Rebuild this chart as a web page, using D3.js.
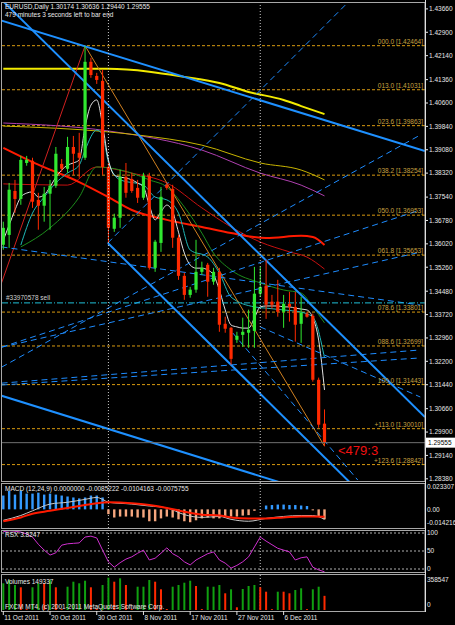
<!DOCTYPE html>
<html>
<head>
<meta charset="utf-8">
<script src="https://cdn.jsdelivr.net/npm/d3@7/dist/d3.min.js"></script>
<style>
    body { margin: 0; background: #000; }
    svg { display: block; }
    text { font-family: "Liberation Sans", Arial, sans-serif; }
</style>
</head>
<body>
<svg id="grafico" width="455" height="625"></svg>
<script>
const abertura = [1.3599,1.3631,1.3774,1.3748,1.3865,1.3872,1.3745,1.3726,1.3765,1.3791,1.3862,1.3846,1.3917,1.3898,1.3882,1.4194,1.4148,1.4132,1.3852,1.3651,1.3687,1.3820,1.3813,1.3784,1.3752,1.3823,1.3524,1.3605,1.3794,1.3781,1.3622,1.3498,1.3436,1.3453,1.3511,1.3534,1.3479,1.3511,1.3342,1.3329,1.3290,1.3306,1.3313,1.3319,1.3440,1.3466,1.3414,1.3414,1.3381,1.3407,1.3397,1.3342,1.3375,1.3368,1.3160,1.30174];
const maxima = [1.3674,1.3800,1.3810,1.3888,1.3888,1.3882,1.3768,1.3787,1.3810,1.3917,1.3878,1.3950,1.3953,1.3963,1.4246,1.4207,1.4158,1.4168,1.3865,1.3700,1.3843,1.3865,1.3833,1.3810,1.3833,1.3833,1.3615,1.3787,1.3800,1.3794,1.3631,1.3508,1.3462,1.3615,1.3544,1.3540,1.3524,1.3524,1.3365,1.3332,1.3316,1.3362,1.3388,1.3527,1.3527,1.3550,1.3436,1.3485,1.3436,1.3446,1.3446,1.3430,1.3381,1.3375,1.3167,1.30636];
const minima = [1.3583,1.3589,1.3703,1.3729,1.3856,1.3719,1.3648,1.3674,1.3648,1.3784,1.3836,1.3833,1.3826,1.3817,1.3875,1.4142,1.4122,1.3826,1.3605,1.3641,1.3654,1.3752,1.3768,1.3735,1.3745,1.3518,1.3511,1.3576,1.3778,1.3589,1.3485,1.3420,1.3427,1.3443,1.3501,1.3430,1.3469,1.3316,1.3313,1.3209,1.3280,1.3267,1.3264,1.3264,1.3430,1.3358,1.3391,1.3365,1.3329,1.3349,1.3284,1.3280,1.3362,1.3154,1.3004,1.29440];
const fechamento = [1.3654,1.3778,1.3748,1.3875,1.3875,1.3739,1.3726,1.3765,1.3791,1.3895,1.3846,1.3917,1.3895,1.3882,1.4194,1.4151,1.4135,1.3852,1.3654,1.3687,1.3820,1.3768,1.3774,1.3752,1.3823,1.3524,1.3609,1.3755,1.3784,1.3622,1.3498,1.3436,1.3453,1.3511,1.3524,1.3479,1.3511,1.3339,1.3326,1.3228,1.3303,1.3316,1.3323,1.3440,1.3462,1.3404,1.3404,1.3381,1.3407,1.3397,1.3339,1.3378,1.3365,1.3160,1.3014,1.29555];

const volumes = [281500,316400,263600,239400,9000,239400,281500,281500,316400,239400,9000,245700,298500,281500,309000,239400,12000,263600,340600,298500,334300,263600,10000,245700,245700,316400,298500,218300,10000,245700,263600,287900,309000,253100,10000,245700,245700,263600,176100,218300,28500,221400,253100,263600,239400,193000,9000,193000,193000,176100,210900,228800,9000,218300,245700,149337];
const volumeSobe = [1,1,1,0,0,1,1,0,1,0,0,1,1,1,1,0,0,1,1,0,1,0,0,1,1,1,0,0,0,1,1,1,1,0,0,1,1,1,0,1,0,1,1,1,0,0,0,1,0,0,1,1,0,1,1,0];

const macdHist = [0.0144,0.0193,0.0154,0.0193,0.0164,0.0164,0.0174,0.0154,0.0164,0.0154,0.0144,0.0134,0.0124,0.0114,0.0124,0.0144,0.0144,0.0124,-0.0050,-0.0085,-0.0075,-0.0075,-0.0075,-0.0085,-0.0085,-0.0124,-0.0124,-0.0094,-0.0075,-0.0085,-0.0104,-0.0124,-0.0134,-0.0114,-0.0094,-0.0085,-0.0094,-0.0094,-0.0085,-0.0075,-0.0075,-0.0065,-0.0060,-0.0015,0.0003,0.0040,0.0045,0.0050,0.0050,0.0045,0.0045,0.0040,0.0035,-0.0010,-0.0070,-0.0104];
const macdPrincipal = [[0,-0.0114],[3,-0.0064],[5,-0.0015],[8,0.0055],[11,0.0074],[14,0.0104],[16,0.0124],[17,0.0104],[18,0.0074],[22,0.0055],[25,0.0035],[28,0.0015],[31,-0.0055],[34,-0.0084],[37,-0.0074],[39,-0.0104],[42,-0.0124],[45,-0.0094],[48,-0.0074],[51,-0.0064],[53,-0.0064],[55,-0.0104]];
const macdSinal = [[0,-0.0124],[3,-0.0084],[5,-0.0045],[8,-0.0015],[11,0.0015],[14,0.0045],[16,0.0064],[18,0.0074],[22,0.0064],[25,0.0045],[28,0.0015],[31,-0.0025],[34,-0.0055],[37,-0.0064],[39,-0.0084],[42,-0.0094],[45,-0.0094],[48,-0.0084],[51,-0.0074],[53,-0.0074],[55,-0.0076]];

const rsx = [93,95,94,92,88,81,65,52,41,46,63,66,67,68,81,83,79,52,26,14,24,32,37,45,52,30,34,45,57,44,37,26,19,30,37,44,48,30,23,12,18,26,37,59,81,72,64,56,52,48,30,35,37,14,8,3.8];

// médias móveis [barra, preço]
const mediaBranca = [1.3614,1.3663,1.3712,1.3754,1.3767,1.3771,1.3754,1.3761,1.3787,1.3819,1.3842,1.3858,1.3865,1.3875,1.3982,1.4053,1.4070,1.3988,1.3875,1.3826,1.3819,1.3816,1.3810,1.3800,1.3787,1.3728,1.3680,1.3706,1.3728,1.3706,1.3640,1.3572,1.3533,1.3523,1.3523,1.3517,1.3501,1.3452,1.3387,1.3338,1.3332,1.3328,1.3328,1.3361,1.3397,1.3400,1.3400,1.3400,1.3397,1.3397,1.3393,1.3390,1.3387,1.3361,1.3289,1.3127];
const mediaCiano = [[3,1.3598],[5,1.3702],[7,1.3754],[9,1.3800],[11,1.3832],[13,1.3858],[14,1.3907],[16,1.3972],[17,1.3956],[18,1.3868],[20,1.3810],[24,1.3793],[26,1.3754],[28,1.3745],[30,1.3702],[32,1.3582],[35,1.3559],[37,1.3507],[39,1.3429],[43,1.3397],[45,1.3393],[48,1.3387],[51,1.3380],[53,1.3364],[55,1.3231]];
const mediaVerde = [[3,1.3592],[8,1.3654],[13,1.3754],[16,1.3852],[22,1.3832],[25,1.3810],[28,1.3787],[31,1.3722],[34,1.3637],[36,1.3572],[39,1.3517],[44,1.3475],[48,1.3452],[51,1.3442],[53,1.3397],[55,1.3345]];
const mediaVermelhaFina = [[0,1.3797],[11,1.3793],[16,1.3852],[22,1.3832],[28,1.3800],[34,1.3719],[39,1.3657],[44,1.3608],[49,1.3576],[52,1.3559],[55,1.3520]];
const mediaVermelha = [[0,1.3914],[5,1.3868],[13,1.3803],[18,1.3754],[22,1.3712],[28,1.3680],[34,1.3657],[39,1.3637],[45,1.3621],[51,1.3628],[53,1.3624],[55,1.3598]];
const mediaAmarela = [[0,1.4171],[18,1.4171],[25,1.4162],[31,1.4145],[37,1.4125],[42,1.4096],[48,1.4070],[51,1.4050],[55,1.4024]];
const mediaOliva = [[0,1.3985],[18,1.3966],[23,1.3956],[34,1.3923],[44,1.3865],[51,1.3842],[55,1.3810]];
const mediaRoxa = [[0,1.3995],[18,1.3969],[34,1.3907],[44,1.3832],[51,1.3793],[55,1.3758]];

// linhas de tendência [barra, preço]
const canalAzul = [
    [[-0.3,1.4328],[72.2,1.3904]],
    [[0.1,1.4388],[72.2,1.3039]],
    [[17.9,1.3605],[60,1.2814]],
    [[-0.3,1.3108],[50,1.2811]]
];
const linhasTracejadas = [
    [[17.9,1.3605],[58.9,1.4385]],
    [[-0.3,1.3201],[71.4,1.3956]],
    [[-0.3,1.3266],[71.4,1.3712]],
    [[-0.3,1.3266],[71.4,1.3575]],
    [[-0.3,1.3592],[71.4,1.3403]],
    [[-0.3,1.3149],[71.4,1.3257]],
    [[-0.3,1.3143],[71.4,1.3231]],
    [[44,1.3332],[71.4,1.3104]],
    [[39.3,1.3312],[60.7,1.2834]]
];
const zigzagVermelho = [[-0.3,1.3475],[14,1.4246]];
const zigzagLaranja = [[14,1.4246],[28,1.3800],[55,1.2944]];

const fibNomes = ["000.0","013.0","023.6","038.2","050.0","061.8","078.6","088.6","100.0","+113.0","+123.6"];
const fibValores = [1.42464,1.41031,1.39863,1.38254,1.36953,1.35653,1.33801,1.32699,1.31443,1.30010,1.28842];

const precoTicks = [1.43660,1.42900,1.42140,1.41360,1.40600,1.39840,1.39080,1.38320,1.37540,1.36780,1.36020,1.35260,1.34480,1.33720,1.32960,1.32200,1.31440,1.30660,1.29900,1.29140,1.28380];
const datas = ["11 Oct 2011","20 Oct 2011","30 Oct 2011","8 Nov 2011","17 Nov 2011","27 Nov 2011","6 Dec 2011"];
const datasBarra = [0,8,16,24,32,40,48];
const separadoresMes = [18,44];
const ordemVenda = 1.3410;
const precoAtual = 1.29555;

// ---- Escalas ----
var svg = d3.select("#grafico");
var eixoX = 425;
var x = d3.scaleLinear().domain([0, 55]).range([3.3, 3.3 + 5.84 * 55]);
var y = d3.scaleLinear().domain([1.28380, 1.43660]).range([478.8, 8.9]);
var yMacd = d3.scaleLinear().domain([-0.014216, 0.023307]).range([523, 487]);
var yRsx = d3.scaleLinear().domain([0, 100]).range([573.5, 528.5]);
var yVol = d3.scaleLinear().domain([0, 358547]).range([610, 576]);

var paineis = [[2, 481], [483, 528], [530, 572], [574, 611]];

svg.append("rect").attr("width", 455).attr("height", 625).attr("fill", "#000");

// recortes para cada painel
var defs = svg.append("defs");
paineis.forEach(function (p, k) {
    defs.append("clipPath").attr("id", "clip" + k)
        .append("rect").attr("x", 2).attr("y", p[0]).attr("width", eixoX - 2).attr("height", p[1] - p[0]);
});

var principal = svg.append("g").attr("clip-path", "url(#clip0)");

// separadores de mês (pontilhados)
svg.selectAll("line.sep").data(separadoresMes).enter().append("line")
    .attr("x1", d => x(d)).attr("x2", d => x(d))
    .attr("y1", 2).attr("y2", 612)
    .attr("stroke", "#c8c8c8").attr("stroke-width", 1).attr("stroke-dasharray", "1,2");

// níveis de Fibonacci
principal.selectAll("line.fib").data(fibValores).enter().append("line")
    .attr("x1", 2).attr("x2", eixoX)
    .attr("y1", d => y(d)).attr("y2", d => y(d))
    .attr("stroke", "#d89a10").attr("stroke-width", 1).attr("stroke-dasharray", "3,2");
svg.selectAll("text.fib").data(fibValores).enter().append("text")
    .attr("x", eixoX - 2).attr("y", d => y(d) - 2)
    .attr("text-anchor", "end").attr("fill", "#c8a040").style("font-size", "6.5px")
    .text((d, i) => fibNomes[i] + "  [" + d.toFixed(5) + "]");

var linha = d3.line().x(d => x(d[0])).y(d => y(d[1]));
var linhaCurva = d3.line().x(d => x(d[0])).y(d => y(d[1])).curve(d3.curveMonotoneX);

// médias móveis
function desenharMedia(dados, cor, largura) {
    principal.append("path").datum(dados)
        .attr("d", linhaCurva).attr("fill", "none")
        .attr("stroke", cor).attr("stroke-width", largura);
}
desenharMedia(mediaRoxa, "#b040b0", 1);
desenharMedia(mediaOliva, "#c8b400", 1);
desenharMedia(mediaAmarela, "#f2ea00", 2);
desenharMedia(mediaVermelhaFina, "#c81010", 1);
desenharMedia(mediaVermelha, "#ff1a00", 2);
desenharMedia(mediaVerde, "#1c8c1c", 1);
desenharMedia(mediaCiano, "#20b8b8", 1);
desenharMedia(mediaBranca.map((v, i) => [i, v]), "#e0e0e0", 1);

// zigzag
principal.append("path").datum(zigzagVermelho).attr("d", linha)
    .attr("fill", "none").attr("stroke", "#d02020").attr("stroke-width", 1);
principal.append("path").datum(zigzagLaranja).attr("d", linha)
    .attr("fill", "none").attr("stroke", "#d08020").attr("stroke-width", 1);

// linhas tracejadas azuis
principal.selectAll("path.trac").data(linhasTracejadas).enter().append("path")
    .attr("d", linha).attr("fill", "none")
    .attr("stroke", "#1e8cff").attr("stroke-width", 1).attr("stroke-dasharray", "6,4");

// canais azuis
principal.selectAll("path.canal").data(canalAzul).enter().append("path")
    .attr("d", linha).attr("fill", "none")
    .attr("stroke", "#1e90ff").attr("stroke-width", 2);

// ordem de venda
principal.append("line").attr("x1", 2).attr("x2", eixoX)
    .attr("y1", y(ordemVenda)).attr("y2", y(ordemVenda))
    .attr("stroke", "#20c0d8").attr("stroke-width", 1).attr("stroke-dasharray", "6,2,1,2");
svg.append("text").attr("x", 6).attr("y", y(ordemVenda) - 3)
    .attr("fill", "#d0d0d0").style("font-size", "6.5px").text("#33970578 sell");

// velas
var indices = d3.range(abertura.length);
var velas = principal.selectAll("g.vela").data(indices).enter().append("g");
velas.append("line")
    .attr("x1", i => x(i)).attr("x2", i => x(i))
    .attr("y1", i => y(maxima[i])).attr("y2", i => y(minima[i]))
    .attr("stroke", i => fechamento[i] >= abertura[i] ? "#30e830" : "#ff2a00");
velas.append("rect")
    .attr("x", i => x(i) - 1.6).attr("width", 3.2)
    .attr("y", i => y(Math.max(abertura[i], fechamento[i])))
    .attr("height", i => Math.max(1, Math.abs(y(abertura[i]) - y(fechamento[i]))))
    .attr("fill", i => fechamento[i] >= abertura[i] ? "#30e830" : "#ff2a00");

// preço atual
principal.append("line").attr("x1", 2).attr("x2", eixoX)
    .attr("y1", y(precoAtual)).attr("y2", y(precoAtual))
    .attr("stroke", "#707070").attr("stroke-width", 1);

// ---- MACD ----
var gMacd = svg.append("g").attr("clip-path", "url(#clip1)");
gMacd.selectAll("rect").data(macdHist).enter().append("rect")
    .attr("x", (d, i) => x(i) - 1.2).attr("width", 2.4)
    .attr("y", d => Math.min(yMacd(d), yMacd(0)))
    .attr("height", d => Math.abs(yMacd(d) - yMacd(0)))
    .attr("fill", d => d >= 0 ? "#3399ff" : "#f5a67e");
var linhaMacd = d3.line().x(d => x(d[0])).y(d => yMacd(d[1])).curve(d3.curveMonotoneX);
gMacd.append("path").datum(macdPrincipal).attr("d", linhaMacd)
    .attr("fill", "none").attr("stroke", "#c8c8c8").attr("stroke-width", 1);
gMacd.append("path").datum(macdSinal).attr("d", linhaMacd)
    .attr("fill", "none").attr("stroke", "#ff1a00").attr("stroke-width", 2);

// ---- RSX ----
var gRsx = svg.append("g").attr("clip-path", "url(#clip2)");
gRsx.selectAll("line").data([90, 50, 10]).enter().append("line")
    .attr("x1", 2).attr("x2", eixoX).attr("y1", d => yRsx(d)).attr("y2", d => yRsx(d))
    .attr("stroke", "#b0b0b0").attr("stroke-dasharray", "2,2");
gRsx.append("path").datum(rsx)
    .attr("d", d3.line().x((d, i) => x(i)).y(d => yRsx(d)))
    .attr("fill", "none").attr("stroke", "#d030d0").attr("stroke-width", 1);

// ---- Volumes ----
var gVol = svg.append("g").attr("clip-path", "url(#clip3)");
gVol.selectAll("rect").data(volumes).enter().append("rect")
    .attr("x", (d, i) => x(i) - 1).attr("width", 2)
    .attr("y", d => yVol(d)).attr("height", d => yVol(0) - yVol(d))
    .attr("fill", (d, i) => volumeSobe[i] ? "#10a010" : "#ff2a00");

// ---- molduras dos painéis ----
paineis.forEach(function (p) {
    svg.append("rect").attr("x", 1.5).attr("y", p[0] + 0.5)
        .attr("width", eixoX - 1.5).attr("height", p[1] - p[0])
        .attr("fill", "none").attr("stroke", "#a8a8a8").attr("stroke-width", 1);
});

// ---- eixo de preço ----
var eixo = svg.append("g");
eixo.selectAll("text").data(precoTicks).enter().append("text")
    .attr("x", 429).attr("y", d => y(d) + 2.3)
    .attr("fill", "#e8e8e8").style("font-size", "6.5px")
    .text(d => d.toFixed(5));
eixo.selectAll("line").data(precoTicks).enter().append("line")
    .attr("x1", eixoX).attr("x2", eixoX + 3).attr("y1", d => y(d)).attr("y2", d => y(d))
    .attr("stroke", "#e8e8e8");
eixo.append("rect").attr("x", 426).attr("y", y(precoAtual) - 5)
    .attr("width", 29).attr("height", 10).attr("fill", "#fff");
eixo.append("text").attr("x", 428).attr("y", y(precoAtual) + 2.3)
    .attr("fill", "#000").style("font-size", "6.5px").text(precoAtual.toFixed(5));

// rótulos dos painéis inferiores
var rotulosDireita = [
    [yMacd(0.023307), "0.023307"], [yMacd(0), "0.00"], [yMacd(-0.014216) - 0.5, "-0.014216"],
    [yRsx(90), "100"], [yRsx(50), "50"], [yRsx(10), "0"],
    [yVol(358547) + 4, "358547"], [yVol(0) - 5, "0"]
];
svg.selectAll("text.dir").data(rotulosDireita).enter().append("text")
    .attr("x", 427).attr("y", d => d[0] + 2.3)
    .attr("fill", "#e8e8e8").style("font-size", "6.5px").text(d => d[1]);

// eixo vertical direito
svg.append("line").attr("x1", eixoX + 0.5).attr("x2", eixoX + 0.5).attr("y1", 0).attr("y2", 612)
    .attr("stroke", "#e0e0e0");

// eixo de datas
svg.selectAll("line.data").data(datasBarra).enter().append("line")
    .attr("x1", d => x(d)).attr("x2", d => x(d)).attr("y1", 611).attr("y2", 615)
    .attr("stroke", "#e0e0e0");
svg.selectAll("text.data").data(datas).enter().append("text")
    .attr("x", (d, i) => x(datasBarra[i]) + 1).attr("y", 620)
    .attr("fill", "#e8e8e8").style("font-size", "6.5px").text(d => d);

// textos do cabeçalho e indicadores
var textos = [
    [5, 9, "EURUSD,Daily  1.30174 1.30636 1.29440 1.29555"],
    [5, 17, "479 minutes 3 seconds left to bar end"],
    [5, 491, "MACD  (12,24,9) 0.0000000 -0.0085222 -0.0104163 -0.0075755"],
    [5, 537, "RSX 3.8247"],
    [5, 584, "Volumes 149337"],
    [5, 609, "FXCM MT4, (c) 2001-2011 MetaQuotes Software Corp."]
];
svg.selectAll("text.info").data(textos).enter().append("text")
    .attr("x", d => d[0]).attr("y", d => d[1])
    .attr("fill", "#e8e8e8").style("font-size", "6.5px").text(d => d[2]);

// contador do candle
svg.append("text").attr("x", 338).attr("y", 455)
    .attr("fill", "#f01010").style("font-size", "13px").text("<479:3");
</script>
</body>
</html>
